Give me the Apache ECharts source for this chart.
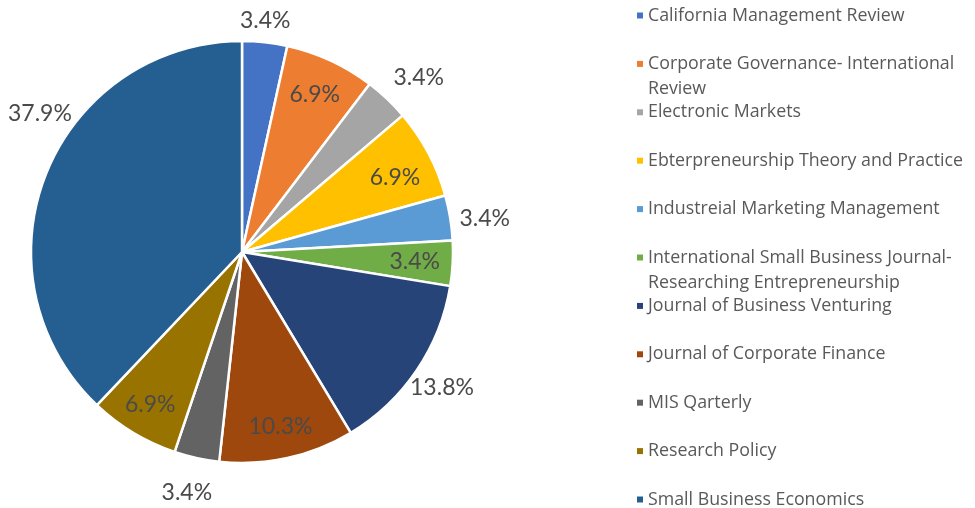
<!DOCTYPE html>
<html><head><meta charset="utf-8">
<script src="https://cdn.jsdelivr.net/npm/echarts@6/dist/echarts.min.js"></script>
<style>html,body{margin:0;padding:0;background:#fff}#c{width:975px;height:508px}</style>
</head><body><div id="c"></div>
<script>
// ---- data ----
const categories = [
  'California Management Review',
  'Corporate Governance- International Review',
  'Electronic Markets',
  'Ebterpreneurship Theory and Practice',
  'Industreial Marketing Management',
  'International Small Business Journal- Researching Entrepreneurship',
  'Journal of Business Venturing',
  'Journal of Corporate Finance',
  'MIS Qarterly',
  'Research Policy',
  'Small Business Economics'
];
const counts = [1, 2, 1, 2, 1, 1, 4, 3, 1, 2, 11];
const legendText = [
  'California Management Review',
  'Corporate Governance- International\nReview',
  'Electronic Markets',
  'Ebterpreneurship Theory and Practice',
  'Industreial Marketing Management',
  'International Small Business Journal-\nResearching Entrepreneurship',
  'Journal of Business Venturing',
  'Journal of Corporate Finance',
  'MIS Qarterly',
  'Research Policy',
  'Small Business Economics'
];
const colors = ['#4472C4','#ED7D31','#A5A5A5','#FFC000','#5B9BD5','#70AD47','#264478','#9E480E','#636363','#997300','#255E91'];

// ---- label placement style (fraction of radius, angle shift in degrees) ----
const labelRadiusFrac = [1.104, 0.82, 1.175, 0.806, 1.161, 0.82, 1.145, 0.848, 1.17, 0.844, 1.161];
const labelAngleShift = [-0.5, 0, 2, 2, 1.5, 0, 0, 0, 0.5, 0, 12.7];

const CX = 242, CY = 252, R = 211;
const total = counts.reduce((a, b) => a + b, 0);
const pctText = counts.map(v => (v / total * 100).toFixed(1) + '%');
const midAngles = [];
{ let acc = 0; counts.forEach(v => { midAngles.push((acc + v / 2) / total * 360); acc += v; }); }

const chart = echarts.init(document.getElementById('c'), null, {renderer: 'canvas'});
chart.setOption({
  animation: false,
  color: colors,
  legend: {
    orient: 'vertical', left: 637, top: -22, height: 1000, padding: 0,
    itemWidth: 6, itemHeight: 6, itemGap: -26.6, icon: 'rect',
    itemStyle: {borderWidth: 0},
    selectedMode: false,
    textStyle: {fontFamily: 'Open Sans', fontSize: 17.8, color: '#595959', lineHeight: 25},
    formatter: function (name) {
      const t = legendText[categories.indexOf(name)].split('\n');
      return ' \n' + t[0] + '\n' + (t[1] || ' ');
    },
    data: categories
  },
  series: [{
    type: 'pie',
    center: [CX, CY],
    radius: R,
    startAngle: 90,
    clockwise: true,
    avoidLabelOverlap: false,
    silent: true,
    data: categories.map((n, i) => ({name: n, value: counts[i]})),
    itemStyle: {borderColor: '#ffffff', borderWidth: 2.5},
    label: {
      show: true, position: 'inside',
      formatter: p => pctText[p.dataIndex],
      fontFamily: 'Lato', fontSize: 23, color: '#4a4a4a'
    },
    labelLine: {show: false},
    labelLayout: function (p) {
      const i = p.dataIndex;
      const a = (midAngles[i] + labelAngleShift[i]) * Math.PI / 180;
      const d = R * labelRadiusFrac[i];
      return {x: CX + d * Math.sin(a), y: CY - d * Math.cos(a), align: 'center', verticalAlign: 'middle'};
    }
  }]
});
</script>
</body></html>
